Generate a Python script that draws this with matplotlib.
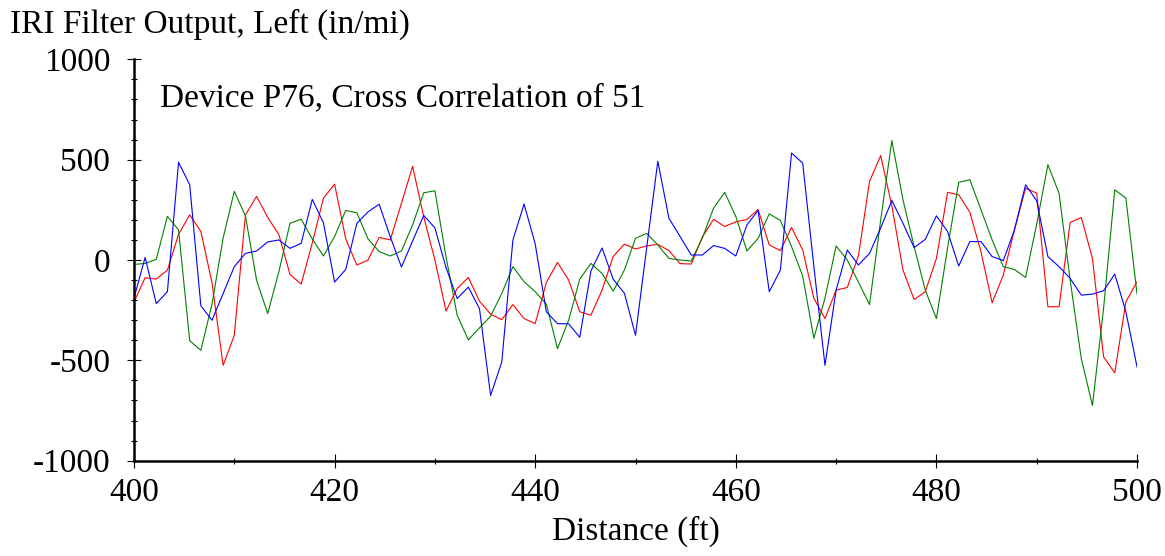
import numpy as np
import matplotlib
matplotlib.use("Agg")
import matplotlib.pyplot as plt
from matplotlib.ticker import MultipleLocator

plt.rcParams["font.family"] = ["Liberation Serif", "DejaVu Serif"]
plt.rcParams["axes.unicode_minus"] = False

# sampled IRI filter output, one value per sample (in/mi)
START = 400.0
STEP = 100.0 / 90.0  # ft between samples

red = [-210, -88, -95, -50, 128, 225, 143, -113, -525, -375,
       225, 317, 212, 127, -72, -120, 85, 308, 378, 105,
       -25, 0, 113, 100, 283, 467, 215, 0, -254, -142,
       -87, -205, -270, -297, -222, -292, -317, -112, -12, -100,
       -258, -275, -150, 18, 79, 55, 70, 78, 47, -18,
       -20, 115, 203, 167, 190, 202, 252, 75, 47, 162,
       50, -190, -292, -150, -137, 20, 392, 520, 270, -50,
       -197, -158, 8, 337, 325, 238, 40, -213, -75, 150,
       358, 333, -233, -233, 187, 212, 8, -483, -562, -208,
       -108]

green = [-22, -17, 3, 218, 150, -402, -450, -220, 110, 342,
         220, -100, -267, -58, 183, 203, 105, 20, 117, 247,
         235, 105, 42, 20, 45, 175, 335, 345, 15, -275,
         -398, -338, -280, -167, -33, -108, -158, -220, -442, -300,
         -95, -17, -67, -155, -50, 108, 133, 75, 8, 0,
         -5, 110, 258, 337, 217, 45, 108, 230, 197, 67,
         -80, -390, -190, 70, 0, -110, -222, 200, 595, 300,
         67, -150, -292, 60, 387, 400, 250, 100, -33, -47,
         -87, 180, 475, 333, -100, -492, -725, -240, 350, 308,
         -170]

blue = [-190, 13, -217, -158, 487, 375, -228, -300, -167, -33,
        33, 45, 90, 100, 58, 83, 302, 185, -110, -47,
        183, 240, 278, 115, -35, 95, 222, 160, -38, -192,
        -135, -242, -675, -508, 100, 279, 80, -258, -317, -318,
        -385, -55, 60, -96, -165, -375, 60, 492, 208, 117,
        25, 25, 72, 58, 20, 175, 247, -158, -50, 533,
        483, -30, -525, -150, 50, -25, 33, 160, 297, 183,
        62, 103, 220, 142, -30, 92, 92, 17, -3, 150,
        375, 295, 17, -33, -92, -175, -170, -153, -70, -258,
        -533]

dist = START + STEP * np.arange(len(red))

fig = plt.figure(figsize=(11.65, 5.56), dpi=100)
ax = fig.add_axes([0.115, 0.1714, 0.861, 0.7219])

ax.plot(dist, red, color="#ff0000", linewidth=0.8)
ax.plot(dist, green, color="#008000", linewidth=0.8)
ax.plot(dist, blue, color="#0000ff", linewidth=0.8)

ax.set_xlim(400, 500)
ax.set_ylim(-1000, 1000)
ax.xaxis.set_major_locator(MultipleLocator(20))
ax.xaxis.set_minor_locator(MultipleLocator(10))
ax.yaxis.set_major_locator(MultipleLocator(500))
ax.yaxis.set_minor_locator(MultipleLocator(100))

for side in ("top", "right"):
    ax.spines[side].set_visible(False)
for side in ("left", "bottom"):
    ax.spines[side].set_linewidth(1.8)

ax.tick_params(which="major", direction="inout", length=10, width=0.8, labelsize=24)
ax.tick_params(which="minor", direction="inout", length=4.5, width=0.8)
ax.tick_params(axis="y", which="major", pad=12)
ax.tick_params(axis="x", which="major", pad=7)

ax.set_xlabel("Distance (ft)", fontsize=24, labelpad=6)
fig.text(10 / 1165, 1 - 24 / 556, "IRI Filter Output, Left (in/mi)", fontsize=24,
         ha="left", va="center")
ax.text(0.026, 0.904, "Device P76, Cross Correlation of 51", transform=ax.transAxes,
        fontsize=24, ha="left", va="center")

fig.savefig("out.png", dpi=100)
